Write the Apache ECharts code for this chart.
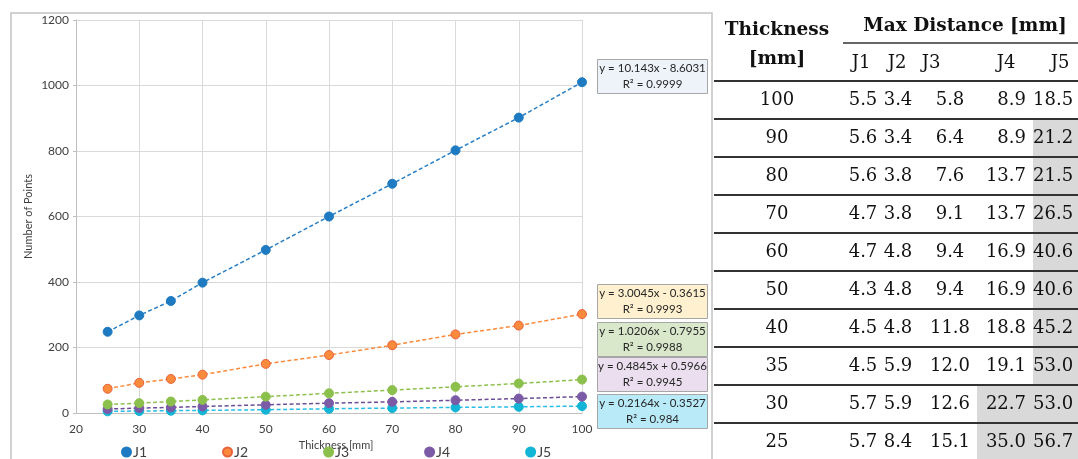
<!DOCTYPE html>
<html>
<head>
<meta charset="utf-8">
<script src="https://cdn.jsdelivr.net/npm/echarts@6/dist/echarts.min.js"></script>
<style>
html,body{margin:0;padding:0;background:#fff;}
#c{width:1078px;height:459px;}
</style>
</head>
<body>
<div id="c"></div>
<script>
// ---- chart data ----
const thickness = [25, 30, 35, 40, 50, 60, 70, 80, 90, 100];
const J1 = [248, 298, 342, 398, 498, 600, 700, 802, 902, 1010];
const J2 = [74, 92, 104, 117, 150, 177, 207, 240, 267, 302];
const J3 = [26, 30, 35, 40, 50, 60, 70, 80, 90, 102];
const J4 = [12, 15, 17, 20, 25, 30, 34, 39, 44, 50];
const J5 = [5, 6, 7, 8, 10, 13, 15, 17, 19, 21];
const seriesNames = ['J1', 'J2', 'J3', 'J4', 'J5'];
const equations = ['y = 10.143x - 8.6031', 'y = 3.0045x - 0.3615', 'y = 1.0206x - 0.7955', 'y = 0.4845x + 0.5966', 'y = 0.2164x - 0.3527'];
const rSquared = ['R² = 0.9999', 'R² = 0.9993', 'R² = 0.9988', 'R² = 0.9945', 'R² = 0.984'];

// ---- table data ----
const tableThickness = ['100', '90', '80', '70', '60', '50', '40', '35', '30', '25'];
const maxJ1 = ['5.5', '5.6', '5.6', '4.7', '4.7', '4.3', '4.5', '4.5', '5.7', '5.7'];
const maxJ2 = ['3.4', '3.4', '3.8', '3.8', '4.8', '4.8', '4.8', '5.9', '5.9', '8.4'];
const maxJ3 = ['5.8', '6.4', '7.6', '9.1', '9.4', '9.4', '11.8', '12.0', '12.6', '15.1'];
const maxJ4 = ['8.9', '8.9', '13.7', '13.7', '16.9', '16.9', '18.8', '19.1', '22.7', '35.0'];
const maxJ5 = ['18.5', '21.2', '21.5', '26.5', '40.6', '40.6', '45.2', '53.0', '53.0', '56.7'];
const shadedJ4 = [false, false, false, false, false, false, false, false, true, true];
const shadedJ5 = [false, true, true, true, true, true, true, true, true, true];

const seriesData = [J1, J2, J3, J4, J5];
const fillColors = ['#1f7bc1', '#fb8b3c', '#8cc04c', '#7b5aa6', '#13b5d6'];
const borderColors = ['#1f7bc1', '#e8623e', '#8cc04c', '#7b5aa6', '#13b5d6'];
const lineColors = ['#2a80c6', '#fb8b3c', '#8cc04c', '#6b4d96', '#28bde8'];
const boxFills = ['#eef3fa', '#fff1cf', '#d9e7cb', '#ebdeee', '#b9eaf8'];
const boxTops = [59, 284, 322, 357, 394];

const chartFont = 'Lato';
const serif = 'DejaVu Serif';

const series = seriesNames.map((n, i) => ({
  name: n,
  type: 'line',
  data: thickness.map((t, k) => [t, seriesData[i][k]]),
  symbol: 'circle',
  symbolSize: 9,
  itemStyle: { color: fillColors[i], borderColor: borderColors[i], borderWidth: 1 },
  lineStyle: { color: lineColors[i], width: 1.5, type: [4, 2.5] },
  z: 5 - i
}));

const graphic = [];
// chart outer border
graphic.push({ type: 'rect', shape: { x: 11, y: 13, width: 701, height: 460 }, style: { fill: null, stroke: '#c4c4c4', lineWidth: 1.5 }, silent: true, z: -1 });

// equation boxes
equations.forEach((eq, i) => {
  const top = boxTops[i];
  const h = 34;
  graphic.push({ type: 'rect', shape: { x: 597.5, y: top + 0.5, width: 110, height: h }, style: { fill: boxFills[i], stroke: '#a6a6a6', lineWidth: 1 }, z: 10 });
  graphic.push({ type: 'text', x: 652.5, y: top + h / 2 - 7.5, style: { text: eq, font: '11.5px ' + chartFont, fill: '#262626', textAlign: 'center', textVerticalAlign: 'middle', align: 'center', verticalAlign: 'middle' }, z: 11 });
  graphic.push({ type: 'text', x: 652.5, y: top + h / 2 + 8, style: { text: rSquared[i], font: '11.5px ' + chartFont, fill: '#262626', textAlign: 'center', textVerticalAlign: 'middle', align: 'center', verticalAlign: 'middle' }, z: 11 });
});

// ---- table ----
function txt(s, x, y, font, align) {
  graphic.push({ type: 'text', x: x, y: y, style: { text: s, font: font, fill: '#111', textAlign: align || 'center', textVerticalAlign: 'middle', align: align || 'center', verticalAlign: 'middle' }, z: 20 });
}
function hline(x1, x2, y, w) {
  graphic.push({ type: 'line', shape: { x1: x1, y1: y, x2: x2, y2: y }, style: { stroke: '#333', lineWidth: w }, z: 22 });
}
const rowTop = 81, rowH = 38;
// shading
tableThickness.forEach((t, r) => {
  const y0 = rowTop + r * rowH;
  if (shadedJ5[r]) graphic.push({ type: 'rect', shape: { x: 1033, y: y0, width: 50, height: rowH }, style: { fill: '#d9d9d9' }, z: 15 });
  if (shadedJ4[r]) graphic.push({ type: 'rect', shape: { x: 977, y: y0, width: 56, height: rowH }, style: { fill: '#d9d9d9' }, z: 15 });
});
// header
txt('Thickness', 777, 30, 'bold 18.5px ' + serif);
txt('[mm]', 777, 59, 'bold 18.5px ' + serif);
txt('Max Distance [mm]', 965, 26, 'bold 18.5px ' + serif);
const headX = [861, 897, 931, 1006, 1060];
seriesNames.forEach((n, i) => txt(n, headX[i], 63, '18px ' + serif));
hline(843, 1078, 43, 1.5);
hline(714, 1078, 81, 2);
// rows
tableThickness.forEach((t, r) => {
  const yc = rowTop + r * rowH + rowH / 2;
  const f = '18px ' + serif;
  txt(t, 777, yc, f);
  txt(maxJ1[r], 863, yc, f);
  txt(maxJ2[r], 898, yc, f);
  txt(maxJ3[r], 950, yc, f);
  txt(maxJ4[r], 1026, yc, f, 'right');
  txt(maxJ5[r], 1033, yc, f, 'left');
  if (r < tableThickness.length - 1) hline(714, 1078, rowTop + (r + 1) * rowH, 2);
});

const chart = echarts.init(document.getElementById('c'), null, { renderer: 'canvas' });
chart.setOption({
  animation: false,
  backgroundColor: '#fff',
  textStyle: { fontFamily: chartFont },
  grid: { left: 76, right: 496, top: 20, bottom: 46, containLabel: false },
  xAxis: {
    type: 'value', min: 20, max: 100, interval: 10,
    name: 'Thickness [mm]', nameLocation: 'middle', nameGap: 21,
    nameTextStyle: { fontSize: 11, color: '#404040', padding: [0, 0, 0, 14] },
    axisLine: { show: true, lineStyle: { color: '#bfbfbf', width: 1 } },
    axisTick: { show: false },
    axisLabel: { fontSize: 12, color: '#404040', margin: 10, formatter: v => String(v) },
    splitLine: { show: true, lineStyle: { color: '#d9d9d9', width: 1 } }
  },
  yAxis: {
    type: 'value', min: 0, max: 1200, interval: 200,
    name: 'Number of Points', nameLocation: 'middle', nameGap: 42,
    nameTextStyle: { fontSize: 11, color: '#404040' },
    axisLine: { show: true, lineStyle: { color: '#bfbfbf', width: 1 } },
    axisTick: { show: true, length: 3, inside: false, lineStyle: { color: '#bfbfbf' } },
    axisLabel: { fontSize: 12, color: '#404040', margin: 7, formatter: v => String(v) },
    splitLine: { show: true, lineStyle: { color: '#d9d9d9', width: 1 } }
  },
  legend: {
    data: seriesNames, left: 116, top: 440, icon: 'circle', itemWidth: 9, itemHeight: 9, itemGap: 75,
    textStyle: { fontSize: 14, color: '#404040', padding: [0, 0, 0, -3] }
  },
  series: series,
  graphic: graphic
});
</script>
</body>
</html>
